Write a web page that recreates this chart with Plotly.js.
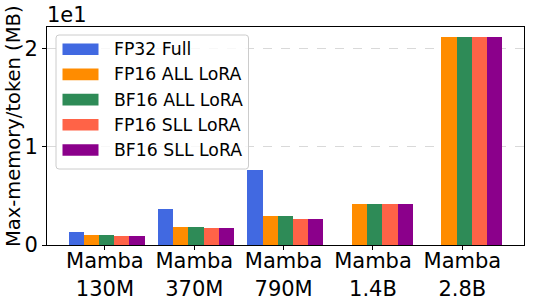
<!DOCTYPE html>
<html>
<head>
<meta charset="utf-8">
<script src="https://cdn.plot.ly/plotly-3.0.1.min.js"></script>
<style>
  html, body { margin: 0; padding: 0; background: #fff; }
  #chart { width: 533px; height: 300px; }
</style>
</head>
<body>
<div id="chart"></div>
<script>
// ---- data (values in units of 1e1 MB) ----
const categories = ["Mamba<br>130M", "Mamba<br>370M", "Mamba<br>790M", "Mamba<br>1.4B", "Mamba<br>2.8B"];
const seriesNames = ["FP32 Full", "FP16 ALL LoRA", "BF16 ALL LoRA", "FP16 SLL LoRA", "BF16 SLL LoRA"];
const seriesColors = ["#4169E1", "#FF8C00", "#2E8B57", "#FF6347", "#8B008B"];
const fp32Full    = [0.13, 0.37, 0.76, null, null];
const fp16AllLora = [0.10, 0.18, 0.30, 0.42, 2.12];
const bf16AllLora = [0.10, 0.18, 0.30, 0.42, 2.12];
const fp16SllLora = [0.09, 0.17, 0.26, 0.42, 2.12];
const bf16SllLora = [0.09, 0.17, 0.26, 0.42, 2.12];
const yTickVals = [0, 1, 2];
const yTickText = ["0", "1", "2"];

const seriesValues = [fp32Full, fp16AllLora, bf16AllLora, fp16SllLora, bf16SllLora];
const xPos = categories.map((_, i) => i);

// ---- layout geometry ----
const W = 533, H = 300;
const M = { l: 47, r: 9, t: 27, b: 55 };
const PW = W - M.l - M.r, PH = H - M.t - M.b;
const px = x => (x - M.l) / PW;        // pixel x -> paper
const py = y => (H - M.b - y) / PH;    // pixel y -> paper

const barW = 0.17, firstOffset = -0.405;
const FONT = "DejaVu Sans, sans-serif";

const traces = seriesValues.map((vals, i) => ({
  type: "bar",
  x: xPos,
  y: vals,
  name: seriesNames[i],
  width: barW,
  offset: firstOffset + i * barW,
  marker: { color: seriesColors[i], line: { width: 0 } },
  showlegend: false,
  hoverinfo: "x+y+name"
}));

// custom legend (matplotlib style)
const shapes = [];
const annotations = [];
const bx0 = 56, by0 = 35, bx1 = 248.5, by1 = 169, r = 3;
const rx = r / PW, ry = r / PH;
const X0 = px(bx0), X1 = px(bx1), Y0 = py(by0), Y1 = py(by1);
shapes.push({
  type: "path", xref: "paper", yref: "paper", layer: "above",
  path: `M ${X0 + rx},${Y0} L ${X1 - rx},${Y0} Q ${X1},${Y0} ${X1},${Y0 - ry} L ${X1},${Y1 + ry} Q ${X1},${Y1} ${X1 - rx},${Y1} L ${X0 + rx},${Y1} Q ${X0},${Y1} ${X0},${Y1 + ry} L ${X0},${Y0 - ry} Q ${X0},${Y0} ${X0 + rx},${Y0} Z`,
  fillcolor: "rgba(255,255,255,0.8)",
  line: { color: "#cccccc", width: 1 }
});
const rowY0 = 49.2, rowStep = 25.2;
seriesNames.forEach((name, i) => {
  const cy = rowY0 + i * rowStep;
  shapes.push({
    type: "rect", xref: "paper", yref: "paper", layer: "above",
    x0: px(62.5), x1: px(98.5), y0: py(cy - 5.8), y1: py(cy + 5.8),
    fillcolor: seriesColors[i], line: { width: 0 }
  });
  annotations.push({
    xref: "paper", yref: "paper", x: px(112), y: py(cy),
    xanchor: "left", yanchor: "middle", showarrow: false,
    text: name, font: { family: FONT, size: 17.3, color: "#000" }
  });
});

// y-axis title and offset text
annotations.push({
  xref: "paper", yref: "paper", x: px(0.5), y: py(126),
  xanchor: "left", yanchor: "middle", showarrow: false, textangle: -90,
  borderpad: 0,
  text: "Max-memory/token (MB)", font: { family: FONT, size: 19.5, color: "#000" }
});
annotations.push({
  xref: "paper", yref: "paper", x: px(45), y: py(15),
  xanchor: "left", yanchor: "middle", showarrow: false,
  text: "1e1", font: { family: FONT, size: 21, color: "#000" }
});

const layout = {
  width: W, height: H,
  margin: M,
  paper_bgcolor: "#fff", plot_bgcolor: "#fff",
  barmode: "overlay",
  bargap: 0,
  font: { family: FONT, size: 21, color: "#000" },
  xaxis: {
    range: [-0.648, 4.69],
    tickmode: "array", tickvals: xPos, ticktext: categories,
    ticks: "outside", ticklen: 4, tickwidth: 1, tickcolor: "#000",
    ticklabelstandoff: -7,
    showline: true, linecolor: "#000", linewidth: 1, mirror: true,
    showgrid: false, zeroline: false,
    tickfont: { family: FONT, size: 21, color: "#000" }
  },
  yaxis: {
    range: [0, 2.2207],
    tickmode: "array", tickvals: yTickVals, ticktext: yTickText,
    ticks: "outside", ticklen: 4, tickwidth: 1, tickcolor: "#000",
    showline: true, linecolor: "#000", linewidth: 1, mirror: true,
    showgrid: true, gridcolor: "#d9d9d9", griddash: "dash", gridwidth: 1,
    zeroline: false,
    tickfont: { family: FONT, size: 21, color: "#000" }
  },
  shapes: shapes,
  annotations: annotations,
  showlegend: false
};

Plotly.newPlot("chart", traces, layout, { displayModeBar: false, staticPlot: true });
</script>
</body>
</html>
